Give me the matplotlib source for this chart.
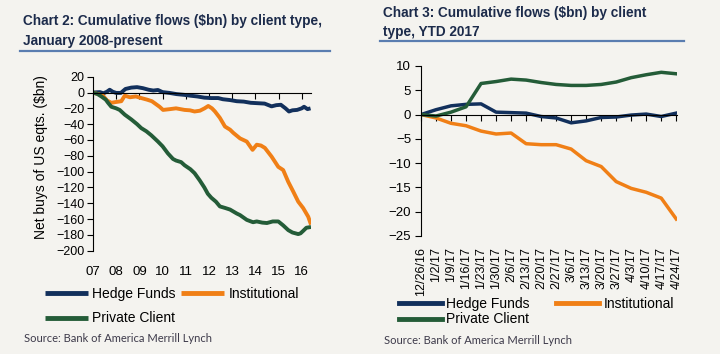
import matplotlib
matplotlib.use('Agg')
import matplotlib.pyplot as plt
from matplotlib.lines import Line2D
from matplotlib import font_manager as fm

BG = '#f4f3ef'
NAVY = '#12305c'
ORANGE = '#f07f16'
GREEN = '#245c38'
TITLE_C = '#1c2b4b'
RULE = '#5a7db0'

names = {f.name for f in fm.fontManager.ttflist}
TFONT = 'Liberation Sans Narrow' if 'Liberation Sans Narrow' in names else ('DejaVu Sans Condensed' if 'DejaVu Sans Condensed' in names else 'Liberation Sans')
BODY = 'Liberation Sans'

# ---------------- Chart 2 data (year position, $bn) ----------------
hf_x = [7.00, 7.30, 7.45, 7.60, 7.72, 7.85, 8.00, 8.20, 8.40, 8.65, 8.90, 9.15, 9.40, 9.60, 9.80,
        10.00, 10.30, 10.60, 10.95, 11.20, 11.50, 11.80, 12.10, 12.40, 12.60, 12.90, 13.20, 13.50,
        13.80, 14.10, 14.40, 14.70, 14.90, 15.10, 15.30, 15.45, 15.60, 15.80, 16.00, 16.10, 16.25, 16.38]
hf_y = [0, 0.5, -1, 1, 3.5, 1, -0.5, -0.5, 4.5, 6.2, 6.8, 5.5, 3.5, 2.5, 3.2,
        0.5, -0.5, -2, -3, -4, -5, -6.5, -7, -7, -8.5, -9.5, -11, -11.5,
        -13, -13.5, -14, -17.5, -16, -15.5, -20, -24, -22.5, -22, -20, -18, -21, -20]

inst_x = [7.00, 7.43, 7.60, 7.79, 7.99, 8.22, 8.37, 8.59, 8.85, 9.08, 9.33, 9.54, 9.87, 10.02,
          10.32, 10.58, 10.95, 11.18, 11.38, 11.61, 11.81, 11.97, 12.13, 12.26, 12.47, 12.69,
          12.91, 13.05, 13.34, 13.63, 13.88, 14.06, 14.24, 14.41, 14.70, 14.99, 15.20, 15.42,
          15.63, 15.85, 16.06, 16.28, 16.40]
inst_y = [0, -4, -10, -13, -12, -11, -4, -6, -5, -7, -9, -11, -18, -22,
          -21, -20, -22, -22.5, -24, -23, -20, -17, -20, -24, -32, -43,
          -47, -51, -58, -62, -72.5, -66, -67, -70, -81, -94, -98, -113,
          -125, -138, -146, -157, -167]

pc_x = [7.00, 7.20, 7.36, 7.55, 7.65, 7.79, 8.00, 8.15, 8.37, 8.65, 8.90, 9.08, 9.30, 9.51, 9.80,
        10.00, 10.23, 10.45, 10.58, 10.80, 10.95, 11.20, 11.38, 11.60, 11.80, 11.95, 12.10, 12.30,
        12.47, 12.70, 12.91, 13.20, 13.34, 13.63, 13.90, 14.06, 14.30, 14.50, 14.75, 14.99, 15.20,
        15.42, 15.60, 15.85, 15.95, 16.06, 16.20, 16.40]
pc_y = [0, -2, -5, -9, -13, -18, -20, -22, -28, -34, -40, -45, -49, -54, -62,
        -68, -77, -84, -86, -88, -92, -97, -102, -111, -120, -128, -133, -138,
        -144, -146, -148, -153, -155, -161, -164, -163, -164.5, -165, -163, -163, -168,
        -174, -177, -179, -178, -175, -171, -170]

year_ticks = [7, 8, 9, 10, 11, 12, 13, 14, 15, 16]
year_labels = ['07', '08', '09', '10', '11', '12', '13', '14', '15', '16']

# ---------------- Chart 3 data (weekly) ----------------
weeks = ['12/26/16', '1/2/17', '1/9/17', '1/16/17', '1/23/17', '1/30/17', '2/6/17', '2/13/17',
         '2/20/17', '2/27/17', '3/6/17', '3/13/17', '3/20/17', '3/27/17', '4/3/17', '4/10/17',
         '4/17/17', '4/24/17']
hf_w = [0, 1.0, 1.8, 2.1, 2.2, 0.5, 0.4, 0.3, -0.4, -0.7, -1.7, -1.3, -0.6, -0.5, -0.1, 0.1, -0.4, 0.3]
inst_w = [0, -0.7, -1.8, -2.3, -3.4, -4.0, -3.8, -6.0, -6.2, -6.2, -7.1, -9.5, -10.7, -13.8, -15.2, -16.0, -17.2, -21.5]
pc_w = [0, -0.3, 0.5, 1.6, 6.4, 6.8, 7.3, 7.1, 6.6, 6.2, 6.0, 6.0, 6.2, 6.7, 7.6, 8.2, 8.7, 8.4]

W, H = 720, 354
fig = plt.figure(figsize=(7.2, 3.54), dpi=100, facecolor=BG)

def fx(px):
    return px / W

def fy(py):
    return 1 - py / H

# ---------- Titles and rules ----------
TSIZE = 9.8
fig.text(fx(23), fy(21), 'Chart 2: Cumulative flows ($bn) by client type,', family=TFONT,
         fontweight='bold', fontsize=TSIZE, color=TITLE_C, va='center', ha='left')
fig.text(fx(23), fy(41), 'January 2008-present', family=TFONT,
         fontweight='bold', fontsize=TSIZE, color=TITLE_C, va='center', ha='left')
fig.add_artist(Line2D([fx(20), fx(330)], [fy(51), fy(51)], color=RULE, lw=1.6))

fig.text(fx(383), fy(13), 'Chart 3: Cumulative flows ($bn) by client', family=TFONT,
         fontweight='bold', fontsize=TSIZE, color=TITLE_C, va='center', ha='left')
fig.text(fx(383), fy(32), 'type, YTD 2017', family=TFONT,
         fontweight='bold', fontsize=TSIZE, color=TITLE_C, va='center', ha='left')
fig.add_artist(Line2D([fx(380), fx(684)], [fy(41), fy(41)], color=RULE, lw=1.6))

# ---------- Left axes ----------
axL = fig.add_axes([fx(93), fy(250.7), fx(311 - 93), (250.7 - 76.7) / H])
axL.set_facecolor(BG)
lh1, = axL.plot(hf_x, hf_y, color=NAVY, lw=2.8, solid_capstyle='butt')
lh2, = axL.plot(inst_x, inst_y, color=ORANGE, lw=2.8, solid_capstyle='butt')
lh3, = axL.plot(pc_x, pc_y, color=GREEN, lw=2.8, solid_capstyle='butt')
axL.set_xlim(7, 16.4)
axL.set_ylim(-200, 20)
axL.set_yticks(list(range(-200, 21, 20)))
axL.tick_params(axis='y', labelsize=9, length=4, width=0.8, pad=2)
for s in ['top', 'right']:
    axL.spines[s].set_visible(False)
axL.spines['bottom'].set_position(('data', 0))
axL.set_xticks(year_ticks)
axL.tick_params(axis='x', labelbottom=False, length=4, width=0.8, direction='out')
secL = axL.secondary_xaxis('bottom')
secL.set_xticks(year_ticks, labels=year_labels)
secL.tick_params(length=0, pad=11, labelsize=9.5)
secL.spines['bottom'].set_visible(False)
for lbl in axL.get_yticklabels() + secL.get_xticklabels():
    lbl.set_family(BODY)
fig.text(fx(41), fy(157), 'Net buys of US eqts. ($bn)', rotation=90, family=BODY,
         fontsize=10, va='center', ha='center')

# ---------- Right axes ----------
axR = fig.add_axes([fx(421), fy(236), fx(677 - 421), (236 - 66) / H])
axR.set_facecolor(BG)
xs = list(range(len(weeks)))
rh1, = axR.plot(xs, hf_w, color=NAVY, lw=2.5)
rh2, = axR.plot(xs, inst_w, color=ORANGE, lw=2.5)
rh3, = axR.plot(xs, pc_w, color=GREEN, lw=2.5)
axR.set_xlim(0, len(weeks) - 1 + 0.05)
axR.set_ylim(-25, 10)
axR.set_yticks([10, 5, 0, -5, -10, -15, -20, -25])
axR.tick_params(axis='y', labelsize=9.5, length=4, width=0.8, pad=3)
for s in ['top', 'right']:
    axR.spines[s].set_visible(False)
axR.spines['bottom'].set_position(('data', 0))
axR.set_xticks(xs)
axR.tick_params(axis='x', labelbottom=False, length=4, width=0.8, direction='out')
secR = axR.secondary_xaxis('bottom')
secR.set_xticks(xs, labels=weeks)
secR.tick_params(length=0, pad=8, labelsize=9, rotation=90)
secR.spines['bottom'].set_visible(False)
for lbl in axR.get_yticklabels() + secR.get_xticklabels():
    lbl.set_family(BODY)

# ---------- Legends ----------
legL = fig.legend([lh1, lh3, lh2], ['Hedge Funds', 'Private Client', 'Institutional'],
                  loc='upper left', bbox_to_anchor=(fx(45), fy(287)), ncol=2, frameon=False,
                  prop={'family': BODY, 'size': 10}, handlelength=3.1, handletextpad=0.3,
                  columnspacing=0.4, labelspacing=0.75, borderpad=0, borderaxespad=0)
for l in legL.get_lines():
    l.set_linewidth(3.5)
legR = fig.legend([rh1, rh3, rh2], ['Hedge Funds', 'Private Client', 'Institutional'],
                  loc='upper left', bbox_to_anchor=(fx(399), fy(297)), ncol=2, frameon=False,
                  prop={'family': BODY, 'size': 10}, handlelength=3.1, handletextpad=0.3,
                  columnspacing=1.9, labelspacing=0.1, borderpad=0, borderaxespad=0)
for l in legR.get_lines():
    l.set_linewidth(3.5)

# ---------- Sources ----------
fig.text(fx(24), fy(339), 'Source: Bank of America Merrill Lynch', family='Lato', fontsize=8,
         color='#3d3a4a', va='center', ha='left')
fig.text(fx(384), fy(340), 'Source: Bank of America Merrill Lynch', family='Lato', fontsize=8,
         color='#3d3a4a', va='center', ha='left')

fig.savefig('out.png', dpi=100, facecolor=BG)
